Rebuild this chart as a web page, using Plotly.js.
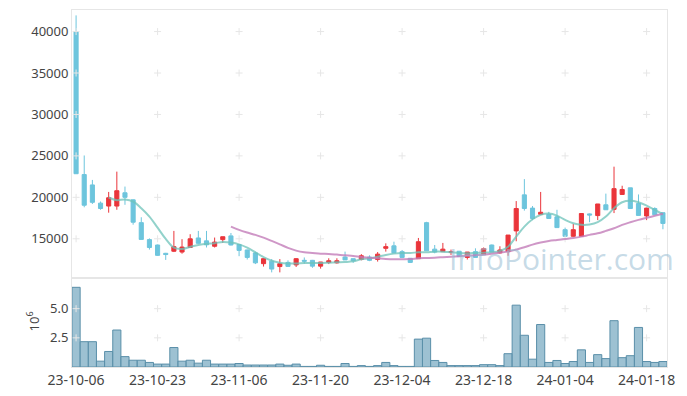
<!DOCTYPE html>
<html>
<head>
<meta charset="utf-8">
<script src="https://cdn.plot.ly/plotly-3.0.1.min.js"></script>
<style>html,body{margin:0;padding:0;background:#fff;}#chart{width:687px;height:396px;}</style>
</head>
<body>
<div id="chart"></div>
<script>
// Trading days (category axis)
const dates = ["23-10-06","23-10-10","23-10-11","23-10-12","23-10-13","23-10-16","23-10-17","23-10-18","23-10-19","23-10-20",
"23-10-23","23-10-24","23-10-25","23-10-26","23-10-27","23-10-30","23-10-31","23-11-01","23-11-02","23-11-03",
"23-11-06","23-11-07","23-11-08","23-11-09","23-11-10","23-11-13","23-11-14","23-11-15","23-11-16","23-11-17",
"23-11-20","23-11-21","23-11-22","23-11-23","23-11-24","23-11-27","23-11-28","23-11-29","23-11-30","23-12-01",
"23-12-04","23-12-05","23-12-06","23-12-07","23-12-08","23-12-11","23-12-12","23-12-13","23-12-14","23-12-15",
"23-12-18","23-12-19","23-12-20","23-12-21","23-12-22","23-12-26","23-12-27","23-12-28","24-01-02","24-01-03",
"24-01-04","24-01-05","24-01-08","24-01-09","24-01-10","24-01-11","24-01-12","24-01-15","24-01-16","24-01-17",
"24-01-18","24-01-19","24-01-22"];

const openP = [40000,22750,21500,19300,18950,18950,20550,19700,16950,14900,
14250,13250,13500,13400,13950,15100,14750,14100,14900,15350,
14300,13650,13300,12000,12300,11650,12150,11850,12400,12400,
11700,12150,12100,12800,12600,12500,12800,12500,13850,14150,
13450,12650,12600,16950,13750,13450,13350,13500,12750,13450,
13150,14250,13300,13450,15950,20300,18700,17950,17950,17650,
16100,15300,15300,18000,17800,19100,18550,20350,21150,19250,
17750,18650,18150];
const highP = [41950,25050,22100,19500,20650,23100,21300,19750,17600,15050,
14300,13300,15950,14950,15550,15950,15950,15150,15250,15700,
14350,13700,13450,12650,12550,12550,12400,12650,12750,12450,
12200,12650,12650,13450,12600,13150,13000,13400,14450,14650,
13650,12650,15100,17050,14250,14500,13700,13500,13400,13850,
13950,14300,14100,15450,19550,22200,18950,20650,18250,18500,
16350,16800,18100,18050,19200,20450,23700,21400,21150,20350,
18750,18800,18150];
const lowP = [22850,18800,19200,18500,18150,18500,19100,16700,14900,13700,
12950,12450,13400,13200,13900,14400,13950,13950,14500,14200,
12900,12500,11950,11650,10950,10950,11650,11600,12000,11500,
11400,11950,12000,12450,12100,12400,12300,12250,13450,13300,
12750,12100,12600,13550,13250,13400,13050,12800,12500,12750,
13100,13400,13200,12950,14700,18400,17250,17950,17450,16350,
15250,15250,15300,17000,17250,18500,18100,20300,18600,17800,
17250,17900,16150];
const closeP = [22850,19050,19400,18650,19950,20800,20000,17000,14920,13950,
13000,13100,14050,14000,15000,14450,14270,14600,15250,14250,
13600,12750,12100,12600,11350,12000,11670,12600,12300,11700,
12200,12350,12350,12450,12350,12950,12400,13150,14050,13300,
12750,12150,14650,13550,13400,13750,13450,12850,13400,12750,
13800,13400,13650,15450,18650,18650,17450,18200,17450,16350,
15300,16100,18050,17870,19200,18500,21050,20950,18650,17820,
18700,17900,16850];

// Moving-average lines
const ma5 = [null,null,null,null,19980,19660,19740,19500,18690,17680,
16350,14980,13930,13770,14020,14260,14380,14470,14620,14540,
14330,13930,13370,12800,12360,12120,12030,12030,12080,12080,
12080,12120,12160,12200,12280,12520,12640,12840,13050,13210,
13290,13290,13370,13370,13450,13450,13370,13290,13250,13290,
13330,13370,13530,14050,15260,16470,17360,17890,18050,17800,
17280,16870,16680,16720,17000,17680,18690,19410,19580,19410,
19010,18490,17960];
const ma20 = [null,null,null,null,null,null,null,null,null,null,
null,null,null,null,null,null,null,null,null,16470,
16070,15750,15470,15140,14740,14330,13900,13570,13370,13290,
13210,13170,13090,13000,12930,12800,12720,12640,12560,12520,
12540,12560,12640,12680,12720,12780,12840,12900,12960,13020,
13080,13200,13330,13450,13700,13970,14300,14550,14740,14860,
14980,15100,15260,15470,15660,15950,16270,16680,17000,17280,
17530,17770,18010];

// Volume in millions
const volume = [6.83,2.17,2.17,0.5,1.33,3.17,0.89,0.58,0.58,0.39,
0.25,0.25,1.67,0.5,0.58,0.33,0.58,0.25,0.25,0.25,
0.3,0.17,0.17,0.17,0.17,0.25,0.15,0.25,0.05,0.05,
0.15,0.05,0.05,0.3,0.05,0.12,0.05,0.12,0.39,0.12,
0.05,0.05,2.39,2.47,0.56,0.39,0.12,0.12,0.12,0.12,
0.2,0.2,0.12,1.14,5.3,2.72,0.67,3.64,0.39,0.56,
0.3,0.47,1.47,0.39,1.06,0.72,3.97,0.8,0.97,3.39,
0.47,0.39,0.47];

const xTickIdx = [0,10,20,30,40,50,60,70];
const priceTicks = [15000,20000,25000,30000,35000,40000];
const volTicks = [2.5,5.0];

const tickCats = xTickIdx.map(i => dates[i]);
const RED = '#ea353b', CYAN = '#6dc5dd';

// grid "+" markers at tick intersections
const gx1 = [], gy1 = [], gx2 = [], gy2 = [];
tickCats.forEach(c => {
  priceTicks.forEach(v => { gx1.push(c); gy1.push(v); });
  volTicks.forEach(v => { gx2.push(c); gy2.push(v); });
});
const crossMarker = {symbol:'cross-thin', size:5, color:'#e6e6e6', line:{color:'#e6e6e6', width:1}};

const traces = [
  {type:'scatter', mode:'markers', x:gx1, y:gy1, xaxis:'x', yaxis:'y', hoverinfo:'skip', showlegend:false,
   marker:crossMarker},
  {type:'scatter', mode:'markers', x:gx2, y:gy2, xaxis:'x2', yaxis:'y2', hoverinfo:'skip', showlegend:false,
   marker:crossMarker},
  {type:'candlestick', x:dates, open:openP, high:highP, low:lowP, close:closeP, xaxis:'x', yaxis:'y',
   increasing:{line:{color:RED, width:1}, fillcolor:RED},
   decreasing:{line:{color:CYAN, width:1}, fillcolor:CYAN},
   whiskerwidth:0, showlegend:false},
  {type:'scatter', mode:'lines', x:dates, y:ma5, xaxis:'x', yaxis:'y', showlegend:false, connectgaps:false,
   line:{color:'rgba(110,195,185,0.75)', width:2, shape:'spline'}},
  {type:'scatter', mode:'lines', x:dates, y:ma20, xaxis:'x', yaxis:'y', showlegend:false, connectgaps:false,
   line:{color:'rgba(195,125,185,0.8)', width:2, shape:'spline'}},
  {type:'bar', x:dates, y:volume, xaxis:'x2', yaxis:'y2', showlegend:false,
   marker:{color:'rgba(140,182,202,0.85)', line:{color:'#5a8fa9', width:1}}}
];

const axisFont = {family:'"Noto Sans", sans-serif', size:13, color:'#444'};
const xFont = {family:'"Noto Sans", sans-serif', size:14, color:'#444'};
const layout = {
  width:687, height:396,
  margin:{l:72, r:20, t:10, b:29},
  paper_bgcolor:'#fff', plot_bgcolor:'#fff',
  showlegend:false, bargap:0, boxgap:0.28,
  font:axisFont,
  xaxis:{type:'category', categoryorder:'array', categoryarray:dates, domain:[0,1], anchor:'y',
    range:[-0.5,72.5], showticklabels:false,
    showgrid:false, zeroline:false, showline:true, linecolor:'#e6e6e6', linewidth:1, mirror:true,
    rangeslider:{visible:false}, fixedrange:true, tickmode:'array', tickvals:tickCats},
  yaxis:{domain:[0.25,1], anchor:'x', range:[10300,42600], tickmode:'array', tickvals:priceTicks,
    ticktext:priceTicks.map(String), showgrid:false, zeroline:false, showline:true, linecolor:'#e6e6e6',
    mirror:true, ticks:'', tickfont:axisFont},
  xaxis2:{type:'category', categoryorder:'array', categoryarray:dates, domain:[0,1], anchor:'y2',
    range:[-0.5,72.5],
    tickmode:'array', tickvals:tickCats, ticktext:tickCats, showgrid:false, zeroline:false,
    showline:true, linecolor:'#e6e6e6', mirror:true, ticks:'', tickangle:0, tickfont:xFont},
  yaxis2:{domain:[0,0.25], anchor:'x2', range:[0,7.65], tickmode:'array', tickvals:volTicks,
    ticktext:['2.5','5.0'], showgrid:false, zeroline:false, showline:true, linecolor:'#e6e6e6',
    mirror:true, ticks:'', tickfont:axisFont},
  annotations:[
    {text:'10<sup>6</sup>', xref:'paper', yref:'paper', x:-0.066, y:0.127, textangle:-90,
     showarrow:false, xanchor:'center', yanchor:'middle', font:axisFont},
    {text:'InfoPointer.com', xref:'paper', yref:'paper', x:0.822, y:0.305, showarrow:false,
     xanchor:'center', yanchor:'middle',
     font:{family:'"Open Sans", sans-serif', size:30, color:'rgba(150,188,210,0.55)'}}
  ]
};

Plotly.newPlot('chart', traces, layout, {staticPlot:true, displayModeBar:false});
</script>
</body>
</html>
